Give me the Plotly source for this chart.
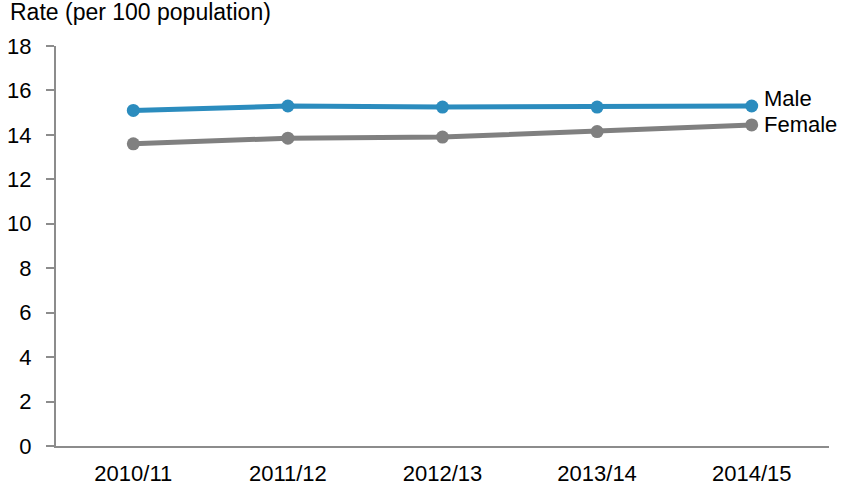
import plotly.graph_objects as go

categories = ["2010/11", "2011/12", "2012/13", "2013/14", "2014/15"]
male = [15.1, 15.3, 15.25, 15.25, 15.3]
female = [13.6, 13.85, 13.9, 14.15, 14.45]
y_ticks = [0, 2, 4, 6, 8, 10, 12, 14, 16, 18]

FONT = "Liberation Sans, Arial, sans-serif"
BLUE = "#2B8CBE"
GREY = "#808080"
AXIS = "#8C8C8C"
FS = 22

fig = go.Figure()
fig.add_trace(go.Scatter(x=categories, y=male, mode="lines+markers", name="Male",
                         line=dict(color=BLUE, width=5), marker=dict(size=13, color=BLUE)))
fig.add_trace(go.Scatter(x=categories, y=female, mode="lines+markers", name="Female",
                         line=dict(color=GREY, width=5), marker=dict(size=13, color=GREY)))

fig.add_annotation(x=categories[-1], y=male[-1], text="Male", xref="x", yref="y",
                   xanchor="left", yanchor="middle", xshift=10, yshift=8, showarrow=False,
                   font=dict(family=FONT, size=FS, color="#000000"))
fig.add_annotation(x=categories[-1], y=female[-1], text="Female", xref="x", yref="y",
                   xanchor="left", yanchor="middle", xshift=10, yshift=0, showarrow=False,
                   font=dict(family=FONT, size=FS, color="#000000"))

fig.update_layout(
    width=843, height=485,
    margin=dict(l=56, r=14, t=46, b=39, autoexpand=False),
    paper_bgcolor="white", plot_bgcolor="white",
    showlegend=False,
    font=dict(family=FONT, size=FS, color="#000000"),
    title=dict(text="Rate (per 100 population)", x=10 / 843, xanchor="left", xref="container",
               y=1 - 4 / 485, yanchor="top", yref="container",
               font=dict(family=FONT, size=23, color="#000000")),
    xaxis=dict(type="category", range=[-0.5, 4.5], showline=True, linecolor=AXIS, linewidth=2,
               ticks="", showgrid=False, zeroline=False, tickfont=dict(size=FS),
               automargin=False, ticklabelstandoff=7),
    yaxis=dict(range=[0, 18], tickvals=y_ticks, showline=True, linecolor=AXIS, linewidth=2,
               ticks="outside", ticklen=8, tickwidth=2, tickcolor=AXIS, showgrid=False,
               zeroline=False, tickfont=dict(size=FS), automargin=False, ticklabelstandoff=10),
)

# remove the browser's default 8px body margin so the figure sits at the page origin
fig.write_html("out.html", config={"displayModeBar": False},
               post_script="document.body.style.margin='0';")
